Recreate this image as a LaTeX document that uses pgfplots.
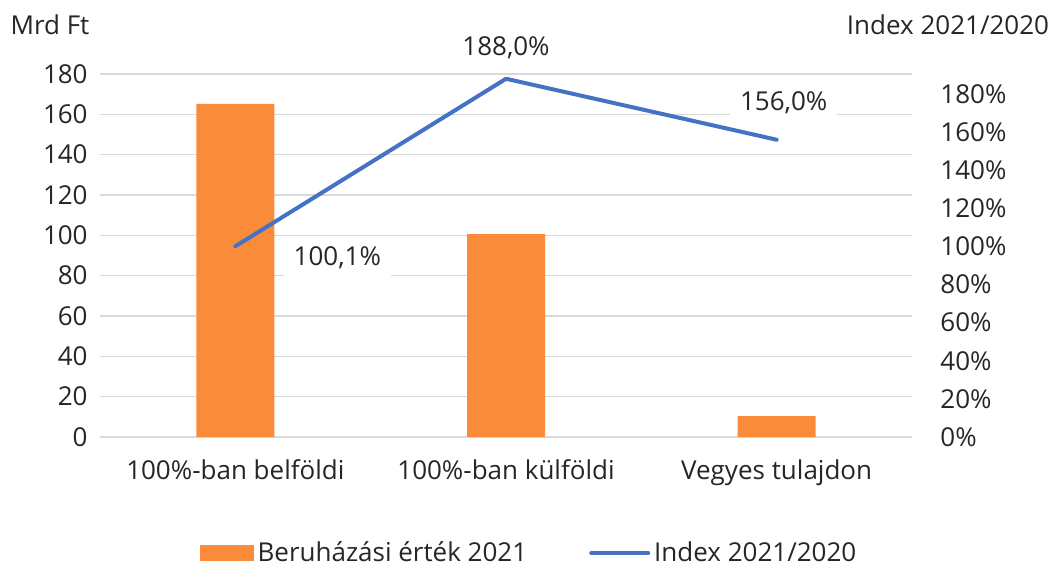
\documentclass[border=0pt]{standalone}
\usepackage{pgfplots}
\usepackage{pgfplotstable}
\pgfplotsset{compat=1.18}
\usepackage{fontspec}
\setmainfont{Open Sans}

\definecolor{barorange}{HTML}{F98B3B}
\definecolor{lineblue}{HTML}{4472C4}
\definecolor{gridgray}{HTML}{D9D9D9}
\definecolor{txt}{HTML}{262626}

% Beruhazasi ertek 2021 (Mrd Ft)
\pgfplotstableread{
x val
0 165.2
1 100.6
2 10.3
}\beruhazas

% Index 2021/2020 (%), label offsets in pt
\pgfplotstableread{
x idx lab dx dy
0 100.1 100,1\% 51 -5.5
1 188.0 188,0\% 0 15.5
2 156.0 156,0\% 3.5 18.5
}\indextab

\begin{document}
\begin{tikzpicture}[font=\fontsize{13}{15.6}\selectfont, text=txt]
\path[use as bounding box] (0,0) rectangle (526pt,283.5pt);

\begin{axis}[
    at={(50pt,65pt)}, anchor=south west,
    scale only axis, width=406pt, height=181.5pt,
    xmin=-0.5, xmax=2.5, ymin=0, ymax=180,
    ytick={0,20,...,180},
    xtick={0,1,2},
    xticklabels={100\%-ban belföldi,100\%-ban külföldi,Vegyes tulajdon},
    axis line style={draw=none},
    major tick length=0pt,
    ymajorgrids, grid style={gridgray, line width=0.75pt},
    /pgf/number format/assume math mode=true,
    yticklabel style={anchor=east, inner sep=0pt, xshift=-6pt},
    xticklabel style={anchor=north, inner sep=0pt, yshift=-11pt},
    ybar, bar width=39pt,
    clip=false,
]
\addplot[fill=barorange, draw=none] table[x=x, y=val] {\beruhazas};
\end{axis}

\begin{axis}[
    at={(50pt,65pt)}, anchor=south west,
    scale only axis, width=406pt, height=181.5pt,
    xmin=-0.5, xmax=2.5, ymin=0, ymax=190.5,
    hide x axis,
    axis y line*=right,
    y axis line style={draw=none},
    ytick={0,20,...,180},
    yticklabel={\pgfmathprintnumber{\tick}\%},
    /pgf/number format/assume math mode=true,
    major tick length=0pt,
    yticklabel style={anchor=west, inner sep=0pt, xshift=14pt},
    clip=false,
    legend style={at={(0.5296,-0.3196)}, anchor=center, draw=none, fill=none,
        legend columns=2, font=\fontsize{13}{15.6}\selectfont,
        /tikz/every even column/.append style={column sep=29pt}},
    legend cell align=left,
]
\addlegendimage{legend image code/.code={\fill[barorange] (0pt,-3.75pt) rectangle (26.5pt,3.75pt);}}
\addlegendentry{Beruházási érték 2021}
\addplot[lineblue, line width=2pt, line cap=round, line join=round, mark=none,
    point meta=explicit symbolic, nodes near coords,
    visualization depends on={\thisrow{dx}\as\dx},
    visualization depends on={\thisrow{dy}\as\dy},
    every node near coord/.append style={anchor=center, xshift=\dx pt, yshift=\dy pt,
        fill=white, text=txt, inner xsep=5pt, inner ysep=5pt},
    legend image code/.code={\draw[lineblue, line width=2pt] (0pt,0pt) -- (28.5pt,0pt);},
] table[x=x, y=idx, meta=lab] {\indextab};
\addlegendentry{Index 2021/2020}
\end{axis}

\node at (25pt,271pt) {Mrd Ft};
\node at (474pt,271pt) {Index 2021/2020};
\end{tikzpicture}
\end{document}
